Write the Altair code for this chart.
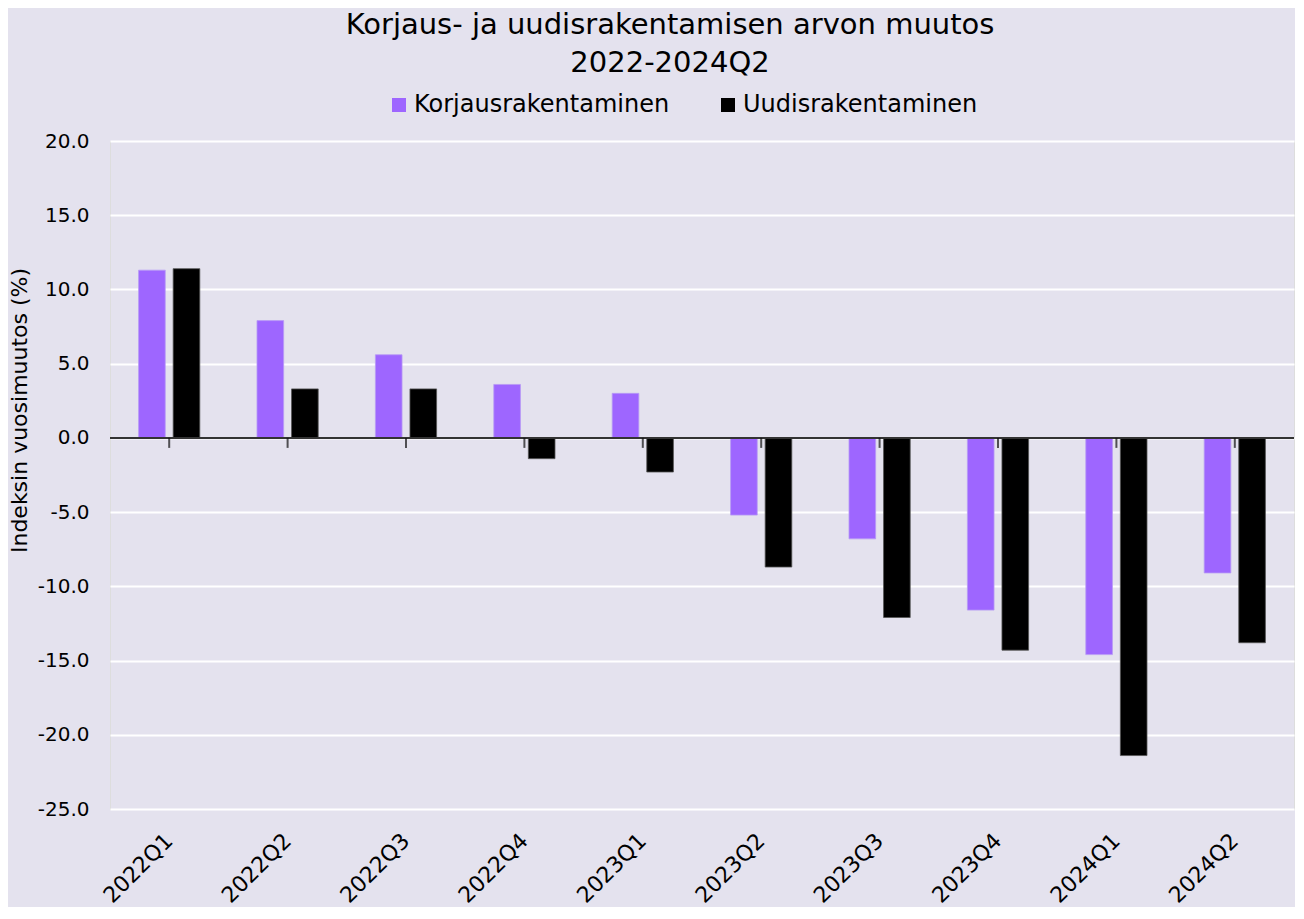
import altair as alt
import pandas as pd

categories = ["2022Q1", "2022Q2", "2022Q3", "2022Q4", "2023Q1",
              "2023Q2", "2023Q3", "2023Q4", "2024Q1", "2024Q2"]
korjaus = [11.3, 7.9, 5.6, 3.6, 3.0, -5.2, -6.8, -11.6, -14.6, -9.1]
uudis = [11.4, 3.3, 3.3, -1.4, -2.3, -8.7, -12.1, -14.3, -21.4, -13.8]
series = ["Korjausrakentaminen", "Uudisrakentaminen"]
colors = ["#9E66FF", "#000000"]
y_ticks = [20, 15, 10, 5, 0, -5, -10, -15, -20, -25]

rows = []
for i, c in enumerate(categories):
    rows.append({"q": c, "s": series[0], "v": korjaus[i]})
    rows.append({"q": c, "s": series[1], "v": uudis[i]})
df = pd.DataFrame(rows)

FONT = "DejaVu Sans"
BG = "#E4E2EE"

xscale = alt.Scale(domain=categories, paddingInner=0.483, paddingOuter=0.2415)
yscale = alt.Scale(domain=[-25, 20], nice=False, zero=False)

bars = alt.Chart(df).mark_bar(strokeWidth=0.8).encode(
    x=alt.X("q:N", scale=xscale, sort=categories,
            axis=alt.Axis(title=None, labelAngle=-45, labelAlign="right",
                          labelBaseline="middle", labelFontSize=22,
                          labelColor="#000", labelPadding=28,
                          ticks=False, domain=False, grid=False)),
    xOffset=alt.XOffset("s:N", sort=series,
                        scale=alt.Scale(domain=series, paddingInner=0.229, paddingOuter=0)),
    y=alt.Y("v:Q", scale=yscale,
            axis=alt.Axis(title="Indeksin vuosimuutos (%)", titleFontSize=22,
                          titleFontWeight="normal", titleColor="#000",
                          titlePadding=6, titleY=269,
                          values=y_ticks, labelFontSize=20, labelColor="#000",
                          labelExpr="replace(format(datum.value, '.1f'), '\u2212', '-')",
                          labelPadding=21,
                          ticks=False, domain=False, grid=True,
                          gridColor="#FFFFFF", gridWidth=2)),
    color=alt.Color("s:N", scale=alt.Scale(domain=series, range=colors),
                    legend=alt.Legend(title=None, orient="none", direction="horizontal",
                                      legendX=277, legendY=-48,
                                      symbolType="square", symbolSize=196,
                                      labelFontSize=24, labelColor="#000",
                                      labelLimit=0,
                                      columnPadding=46, symbolStrokeWidth=0,
                                      labelOffset=3)),
    stroke=alt.Stroke("s:N", scale=alt.Scale(domain=series, range=["#B89AF5", "#555555"]),
                      legend=None),
)

zero = alt.Chart(pd.DataFrame({"z": [0]})).mark_rule(color="#333333", strokeWidth=2).encode(
    y=alt.Y("z:Q", scale=yscale)
)

ticks = alt.Chart(pd.DataFrame({"q": categories, "z": [0] * len(categories)})).mark_tick(
    orient="vertical", size=10, thickness=2, color="#111111", yOffset=5
).encode(
    x=alt.X("q:N", scale=xscale, sort=categories),
    y=alt.Y("z:Q", scale=yscale),
)

chart = alt.layer(bars, zero, ticks).properties(
    width=1184,
    height=668,
    padding={"left": 0, "right": 0, "top": 3, "bottom": 0},
    title=alt.Title(["Korjaus- ja uudisrakentamisen arvon muutos", "2022-2024Q2"],
                    fontSize=29, fontWeight="normal", color="#000",
                    anchor="middle", lineHeight=38, offset=15, dx=-32),
    background=BG,
).configure_view(strokeWidth=0, fill=BG).configure(font=FONT)

chart.save("out.html", embed_options={"renderer": "svg", "actions": False})
